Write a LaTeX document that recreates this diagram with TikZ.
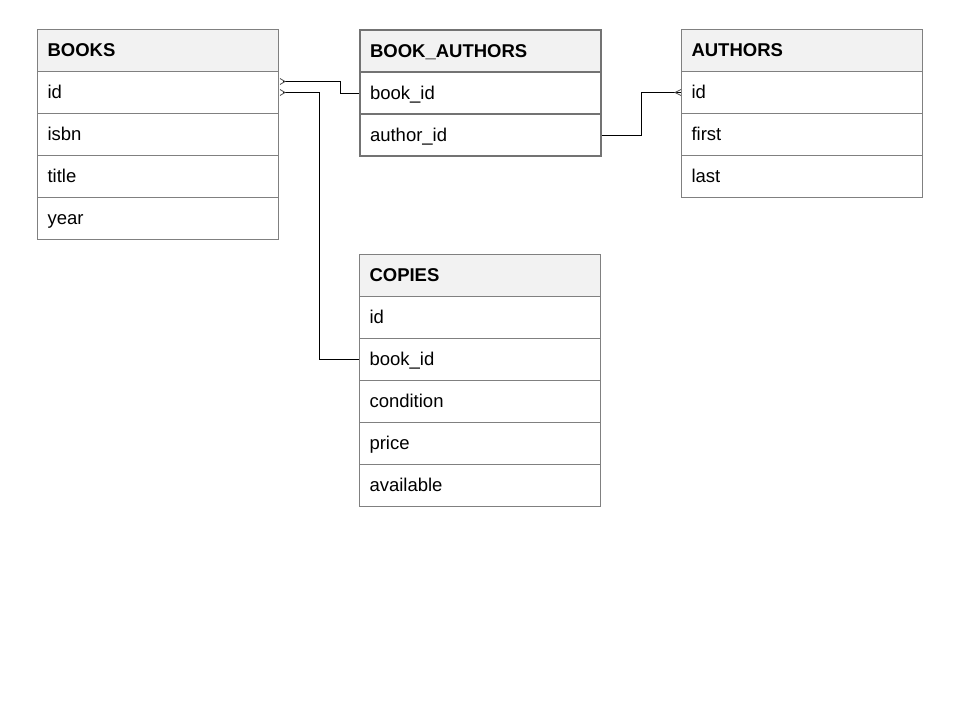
\documentclass[tikz,border=0pt]{standalone}
\usepackage{fontspec}
\setmainfont{Liberation Sans}
\begin{document}
\begin{tikzpicture}[x=1pt,y=-1pt,
  cell/.style={draw=black!50, line width=1pt, anchor=north west, minimum height=42pt,
    text width=221pt, inner xsep=10pt, inner ysep=0pt, align=left,
    text height=14pt, text depth=2pt,
    font=\fontsize{18.5}{22}\selectfont, text=black},
  head/.style={cell, fill=black!5, font=\fontsize{18.5}{22}\selectfont\bfseries},
  thick cell/.style={draw=black!55, line width=2pt},
  link/.style={line width=1pt, draw=black},
  crow/.style={line width=0.8pt, draw=black!70}]
\useasboundingbox (0,0) rectangle (960,720);
% BOOKS
\node[head] (books) at (37,29) {BOOKS};
\node[cell] (books-id) at (37,71) {id};
\node[cell] (books-isbn) at (37,113) {isbn};
\node[cell] (books-title) at (37,155) {title};
\node[cell] (books-year) at (37,197) {year};
% BOOK_AUTHORS
\node[head, thick cell] (ba) at (359,29) {BOOK\_AUTHORS};
\node[cell, thick cell] (ba-book) at (359,71) {book\_id};
\node[cell, thick cell] (ba-author) at (359,113) {author\_id};
% AUTHORS
\node[head] (authors) at (681,29) {AUTHORS};
\node[cell] (authors-id) at (681,71) {id};
\node[cell] (authors-first) at (681,113) {first};
\node[cell] (authors-last) at (681,155) {last};
% COPIES
\node[head] (copies) at (359,254) {COPIES};
\node[cell] (copies-id) at (359,296) {id};
\node[cell] (copies-book) at (359,338) {book\_id};
\node[cell] (copies-cond) at (359,380) {condition};
\node[cell] (copies-price) at (359,422) {price};
\node[cell] (copies-avail) at (359,464) {available};
% connectors
\coordinate (b1) at ([yshift=11pt]books-id.east);
\coordinate (b2) at (books-id.east);
\draw[link] ([xshift=4pt]b1) -| ([xshift=-19pt]ba-book.west) |- (ba-book.west);
\draw[link] ([xshift=4pt]b2) -| ([xshift=-40pt]copies-book.west) |- (copies-book.west);
\draw[link] (ba-author.east) -| ([xshift=-40pt]authors-id.west) |- ([xshift=-5pt]authors-id.west);
\draw[link] ([xshift=-5pt]authors-id.west) -- (authors-id.west);
% crow's feet
\draw[crow] ([xshift=1pt,yshift=3pt]b1) -- ([xshift=6pt]b1) -- ([xshift=1pt,yshift=-3pt]b1);
\draw[crow] ([xshift=1pt,yshift=3pt]b2) -- ([xshift=6pt]b2) -- ([xshift=1pt,yshift=-3pt]b2);
\draw[crow] ([yshift=3pt]authors-id.west) -- ([xshift=-6pt]authors-id.west) -- ([yshift=-3pt]authors-id.west);
\end{tikzpicture}
\end{document}
